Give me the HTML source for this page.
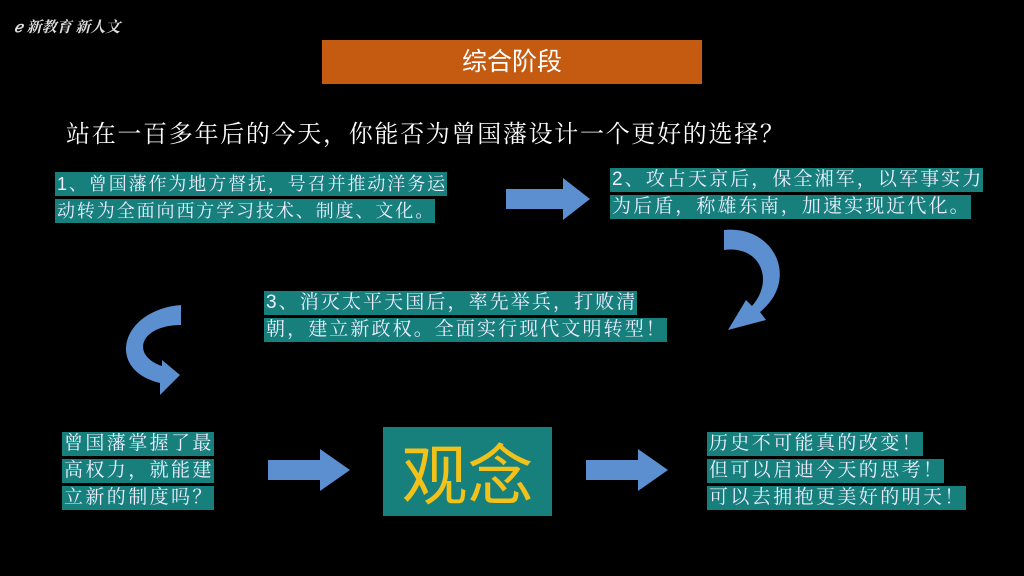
<!DOCTYPE html>
<html><head><meta charset="utf-8"><style>
body{margin:0;width:1024px;height:576px;background:#000;overflow:hidden;position:relative;font-family:"Liberation Sans","Noto Sans CJK SC",sans-serif;}
.a{position:absolute;}
.hl{position:absolute;background:#17807d;color:#eef;font-size:19px;line-height:24px;height:24px;white-space:nowrap;letter-spacing:2.1px;padding-left:2px;font-family:"Liberation Sans","Noto Serif CJK SC",serif;}
.s{font-size:18px;letter-spacing:1.9px;}
</style></head><body>
<div class="a" style="left:14px;top:16px;color:#ddd;font-size:15px;font-style:italic;font-weight:bold;font-family:'Liberation Serif','Noto Serif CJK SC',serif">ℯ 新教育 新人文</div>
<div class="a" style="left:322px;top:40px;width:380px;height:44px;background:#c55a11;color:#fff;font-size:25px;line-height:44px;text-align:center">综合阶段</div>
<div class="a" style="left:66px;top:114px;color:#fff;font-size:24px;letter-spacing:1.7px;white-space:nowrap;font-family:'Liberation Serif','Noto Serif CJK SC',serif">站在一百多年后的今天，你能否为曾国藩设计一个更好的选择？</div>

<div class="hl s" style="left:55px;top:172px">1、曾国藩作为地方督抚，号召并推动洋务运</div>
<div class="hl s" style="left:55px;top:199px">动转为全面向西方学习技术、制度、文化。</div>

<div class="hl" style="left:610px;top:168px">2、攻占天京后，保全湘军，以军事实力</div>
<div class="hl" style="left:610px;top:195px">为后盾，称雄东南，加速实现近代化。</div>

<div class="hl" style="left:264px;top:291px">3、消灭太平天国后，率先举兵，打败清</div>
<div class="hl" style="left:264px;top:318px">朝，建立新政权。全面实行现代文明转型！</div>

<div class="hl" style="left:62px;top:432px;letter-spacing:2.4px">曾国藩掌握了最</div>
<div class="hl" style="left:62px;top:459px;letter-spacing:2.4px">高权力，就能建</div>
<div class="hl" style="left:62px;top:486px;letter-spacing:2.4px">立新的制度吗？</div>

<div class="a" style="left:383px;top:427px;width:169px;height:89px;background:#17807d;color:#f2c11a;font-size:66px;line-height:89px;text-align:center;font-family:'Noto Sans CJK SC',sans-serif">观念</div>

<div class="hl" style="left:707px;top:432px;letter-spacing:2.4px">历史不可能真的改变！</div>
<div class="hl" style="left:707px;top:459px;letter-spacing:2.4px">但可以启迪今天的思考！</div>
<div class="hl" style="left:707px;top:486px;letter-spacing:2.4px">可以去拥抱更美好的明天！</div>

<svg class="a" style="left:0;top:0" width="1024" height="576">
<path d="M506 189 H563 V178 L590 199 L563 220 V209 H506 Z" fill="#5b8fd0"/>
<path d="M268 460 H320 V449 L350 470 L320 491 V480 H268 Z" fill="#5b8fd0"/>
<path d="M586 460 H638 V449 L668 470 L638 491 V480 H586 Z" fill="#5b8fd0"/>
<path d="M724 230 C775 225 800 280 760 312 L766 320 L728 330 L746 300 L752 306 C775 280 760 245 724 250 Z" fill="#5b8fd0"/>
<path d="M181 305 C120 310 105 370 160 383 L160 395 L180 375 L162 360 L162 366 C130 355 140 325 181 325 Z" fill="#5b8fd0"/>
</svg>
</body></html>
